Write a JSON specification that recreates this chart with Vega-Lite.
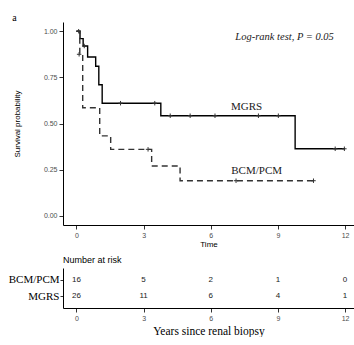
{
  "$schema": "https://vega.github.io/schema/vega-lite/v6.json",
  "padding": {"left": 8, "top": 13, "right": 0, "bottom": 0},
  "background": "white",
  "title": {"text": "a", "anchor": "start", "frame": "bounds", "font": "Liberation Serif", "fontSize": 10, "fontWeight": "normal", "color": "black", "offset": 1, "dx": 4, "dy": 2},
  "spacing": 8,
  "config": {
    "view": {"stroke": null},
    "axis": {"grid": false, "domainColor": "black", "domainWidth": 1, "tickColor": "#333", "tickSize": 4, "labelFont": "Liberation Sans", "labelFontSize": 7, "labelColor": "#4d4d4d", "labelPadding": 2, "titleFont": "Liberation Sans", "titleFontSize": 8, "titleFontWeight": "normal", "titleColor": "black"}
  },
  "datasets": {
    "curves": [
      {"group": "MGRS", "t": 0, "s": 1},
      {"group": "MGRS", "t": 0.16, "s": 0.96},
      {"group": "MGRS", "t": 0.3, "s": 0.92},
      {"group": "MGRS", "t": 0.5, "s": 0.86},
      {"group": "MGRS", "t": 0.86, "s": 0.81},
      {"group": "MGRS", "t": 1.0, "s": 0.71},
      {"group": "MGRS", "t": 1.15, "s": 0.61},
      {"group": "MGRS", "t": 3.77, "s": 0.542},
      {"group": "MGRS", "t": 9.77, "s": 0.363},
      {"group": "MGRS", "t": 12.0, "s": 0.363},
      {"group": "BCM/PCM", "t": 0, "s": 1},
      {"group": "BCM/PCM", "t": 0.15, "s": 0.875},
      {"group": "BCM/PCM", "t": 0.28, "s": 0.585},
      {"group": "BCM/PCM", "t": 1.04, "s": 0.433},
      {"group": "BCM/PCM", "t": 1.53, "s": 0.36},
      {"group": "BCM/PCM", "t": 3.36, "s": 0.27},
      {"group": "BCM/PCM", "t": 4.63, "s": 0.19},
      {"group": "BCM/PCM", "t": 10.59, "s": 0.19}
    ],
    "censors": [
      {"group": "MGRS", "t": 0.1, "s": 1.0},
      {"group": "MGRS", "t": 0.35, "s": 0.92},
      {"group": "MGRS", "t": 1.97, "s": 0.61},
      {"group": "MGRS", "t": 3.5, "s": 0.61},
      {"group": "MGRS", "t": 4.19, "s": 0.542},
      {"group": "MGRS", "t": 5.08, "s": 0.542},
      {"group": "MGRS", "t": 6.19, "s": 0.542},
      {"group": "MGRS", "t": 8.13, "s": 0.542},
      {"group": "MGRS", "t": 9.02, "s": 0.542},
      {"group": "MGRS", "t": 11.56, "s": 0.363},
      {"group": "MGRS", "t": 11.97, "s": 0.363},
      {"group": "BCM/PCM", "t": 0.12, "s": 0.875},
      {"group": "BCM/PCM", "t": 3.2, "s": 0.36},
      {"group": "BCM/PCM", "t": 7.13, "s": 0.19},
      {"group": "BCM/PCM", "t": 10.59, "s": 0.19}
    ],
    "labels": [
      {"label": "MGRS", "t": 7.6, "s": 0.59},
      {"label": "BCM/PCM", "t": 8.05, "s": 0.243}
    ],
    "annot": [
      {"label": "Log-rank test, P = 0.05", "t": 9.3, "s": 0.97}
    ],
    "risk": [
      {"group": "BCM/PCM", "t": 0, "n": 16},
      {"group": "BCM/PCM", "t": 3, "n": 5},
      {"group": "BCM/PCM", "t": 6, "n": 2},
      {"group": "BCM/PCM", "t": 9, "n": 1},
      {"group": "BCM/PCM", "t": 12, "n": 0},
      {"group": "MGRS", "t": 0, "n": 26},
      {"group": "MGRS", "t": 3, "n": 11},
      {"group": "MGRS", "t": 6, "n": 6},
      {"group": "MGRS", "t": 9, "n": 4},
      {"group": "MGRS", "t": 12, "n": 1}
    ]
  },
  "vconcat": [
    {
      "width": 291,
      "height": 203,
      "encoding": {
        "x": {"field": "t", "type": "quantitative", "scale": {"domain": [-0.6, 12.4], "nice": false, "zero": false}, "axis": {"values": [0, 3, 6, 9, 12], "title": "Time", "titlePadding": 2}},
        "y": {"field": "s", "type": "quantitative", "scale": {"domain": [-0.05, 1.05], "nice": false, "zero": false}, "axis": {"values": [0, 0.25, 0.5, 0.75, 1], "format": ".2f", "title": "Survival probability", "titlePadding": 22}}
      },
      "layer": [
        {
          "data": {"name": "curves"},
          "mark": {"type": "line", "interpolate": "step-after", "strokeWidth": 1.4},
          "encoding": {
            "detail": {"field": "group"},
            "color": {"field": "group", "type": "nominal", "scale": {"domain": ["MGRS", "BCM/PCM"], "range": ["#000000", "#333333"]}, "legend": null},
            "strokeDash": {"field": "group", "type": "nominal", "scale": {"domain": ["MGRS", "BCM/PCM"], "range": [[1, 0], [6, 4]]}, "legend": null}
          }
        },
        {
          "data": {"name": "censors"},
          "mark": {"type": "point", "shape": "M-1,0H1M0,-1V1", "filled": false, "size": 20, "strokeWidth": 1, "color": "#333333", "opacity": 1},
          "encoding": {}
        },
        {
          "data": {"name": "labels"},
          "mark": {"type": "text", "font": "Liberation Serif", "fontSize": 11, "color": "#1a1a1a", "align": "center", "baseline": "middle"},
          "encoding": {"text": {"field": "label"}}
        },
        {
          "data": {"name": "annot"},
          "mark": {"type": "text", "font": "Liberation Serif", "fontSize": 10.5, "fontStyle": "italic", "color": "#1a1a1a", "align": "center", "baseline": "middle"},
          "encoding": {"text": {"field": "label"}}
        }
      ]
    },
    {
      "width": 291,
      "height": 40,
      "title": {"text": "Number at risk", "anchor": "start", "frame": "group", "font": "Liberation Sans", "fontSize": 9, "fontWeight": "normal", "color": "black", "offset": 3},
      "data": {"name": "risk"},
      "mark": {"type": "text", "font": "Liberation Sans", "fontSize": 8, "color": "#1a1a1a", "align": "center", "baseline": "middle"},
      "encoding": {
        "x": {"field": "t", "type": "quantitative", "scale": {"domain": [-0.6, 12.4], "nice": false, "zero": false}, "axis": {"values": [0, 3, 6, 9, 12], "title": "Years since renal biopsy", "titleFont": "Liberation Serif", "titleFontSize": 11.5, "titlePadding": 4}},
        "y": {"field": "group", "type": "ordinal", "scale": {"type": "point", "domain": ["BCM/PCM", "MGRS"], "padding": 0.7}, "axis": {"title": null, "labelFont": "Liberation Serif", "labelFontSize": 11, "labelColor": "black", "tickSize": 3, "labelPadding": 1}},
        "text": {"field": "n", "type": "quantitative"}
      }
    }
  ]
}
